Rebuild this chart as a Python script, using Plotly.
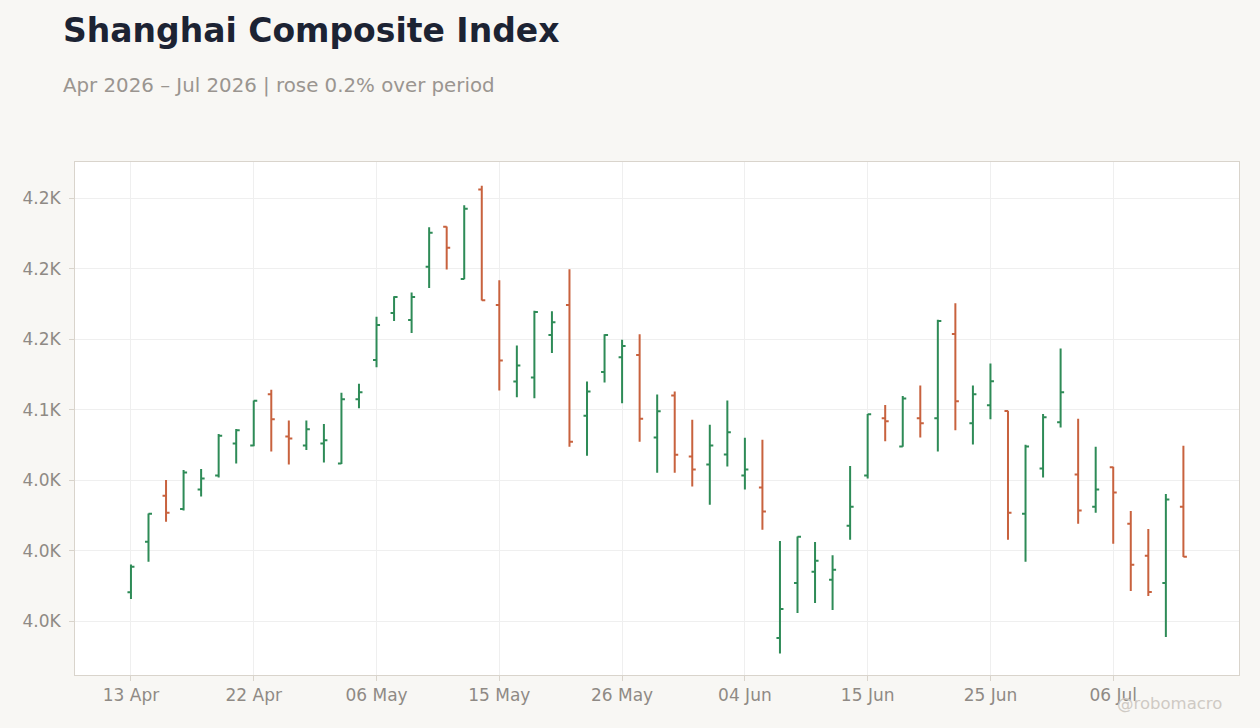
import plotly.graph_objects as go

# trading days (Shanghai, Apr-Jul 2026, holidays skipped)
dates = [
    "2026-04-13", "2026-04-14", "2026-04-15", "2026-04-16", "2026-04-17",
    "2026-04-20", "2026-04-21", "2026-04-22", "2026-04-23", "2026-04-24",
    "2026-04-27", "2026-04-28", "2026-04-29", "2026-04-30",
    "2026-05-06", "2026-05-07", "2026-05-08",
    "2026-05-11", "2026-05-12", "2026-05-13", "2026-05-14", "2026-05-15",
    "2026-05-18", "2026-05-19", "2026-05-20", "2026-05-21", "2026-05-22",
    "2026-05-25", "2026-05-26", "2026-05-27", "2026-05-28", "2026-05-29",
    "2026-06-01", "2026-06-02", "2026-06-03", "2026-06-04", "2026-06-05",
    "2026-06-08", "2026-06-09", "2026-06-10", "2026-06-11", "2026-06-12",
    "2026-06-15", "2026-06-16", "2026-06-17", "2026-06-18",
    "2026-06-22", "2026-06-23", "2026-06-24", "2026-06-25", "2026-06-26",
    "2026-06-29", "2026-06-30", "2026-07-01", "2026-07-02", "2026-07-03",
    "2026-07-06", "2026-07-07", "2026-07-08", "2026-07-09", "2026-07-10",
]

open_ = [3970.6, 4006.4, 4039.1, 4029.6, 4043.4, 4053.4, 4076.1, 4074.7, 4111.0, 4081.1,
         4074.7, 4076.1, 4061.9, 4107.4, 4135.2, 4168.6, 4163.7, 4201.4, 4229.8, 4192.8,
         4256.2, 4174.3, 4120.0, 4122.9, 4153.0, 4174.3, 4095.8, 4126.7, 4137.3, 4138.8,
         4080.4, 4110.1, 4066.9, 4061.2, 4068.3, 4053.4, 4044.8, 3938.1, 3977.2, 3985.1,
         3979.4, 4017.8, 4053.4, 4093.9, 4074.0, 4093.9, 4093.9, 4153.7, 4090.4, 4103.2,
         4099.1, 4026.3, 4058.3, 4091.1, 4054.1, 4031.3, 4059.3, 4019.2, 3996.4, 3977.2,
         4031.3]
high = [3990.3, 4026.5, 4050.1, 4057.2, 4057.9, 4082.8, 4086.3, 4106.5, 4114.1, 4092.3,
        4092.3, 4089.9, 4112.0, 4118.4, 4166.0, 4180.5, 4183.1, 4229.4, 4230.0, 4245.0,
        4258.8, 4191.9, 4145.6, 4170.3, 4169.8, 4199.7, 4120.0, 4153.5, 4149.7, 4153.5,
        4110.8, 4112.9, 4093.0, 4089.4, 4106.5, 4080.2, 4078.7, 4006.9, 4010.2, 4006.2,
        3996.9, 4060.2, 4097.0, 4103.4, 4109.8, 4117.2, 4163.9, 4175.5, 4117.2, 4132.8,
        4099.3, 4075.2, 4097.0, 4143.5, 4093.7, 4073.8, 4059.5, 4028.2, 4015.4, 4040.3,
        4074.5]
low = [3965.8, 3992.2, 4020.6, 4028.5, 4038.4, 4051.9, 4061.9, 4074.2, 4070.4, 4061.2,
       4071.4, 4062.6, 4061.6, 4101.0, 4130.2, 4163.0, 4154.4, 4186.4, 4199.5, 4192.5,
       4177.5, 4113.6, 4108.9, 4108.2, 4140.2, 4073.8, 4067.4, 4119.3, 4104.6, 4077.3,
       4055.3, 4055.3, 4045.5, 4032.7, 4059.8, 4043.4, 4014.9, 3927.2, 3955.9, 3963.0,
       3958.0, 4007.8, 4051.2, 4077.6, 4073.8, 4080.4, 4070.4, 4085.4, 4075.4, 4093.2,
       4007.8, 3992.2, 4051.9, 4087.5, 4019.2, 4027.0, 4005.0, 3971.5, 3968.0, 3938.8,
       3995.5]
close = [3988.6, 4026.3, 4027.0, 4055.5, 4051.2, 4081.6, 4085.4, 4106.3, 4093.2, 4079.7,
         4086.1, 4078.3, 4107.4, 4112.4, 4160.1, 4180.0, 4180.0, 4225.6, 4214.9, 4242.6,
         4177.7, 4135.0, 4131.4, 4169.4, 4162.0, 4077.3, 4112.9, 4153.0, 4145.2, 4093.7,
         4098.9, 4068.1, 4057.6, 4074.7, 4084.0, 4057.6, 4027.8, 3958.7, 4010.0, 3992.9,
         3986.5, 4031.3, 4096.8, 4091.8, 4107.9, 4090.4, 4163.0, 4106.0, 4111.0, 4120.3,
         4027.0, 4074.0, 4094.6, 4112.4, 4028.5, 4043.4, 4041.3, 3990.0, 3970.8, 4036.3,
         3995.7]

x_tick_dates = ["2026-04-13", "2026-04-22", "2026-05-06", "2026-05-15", "2026-05-26",
                "2026-06-04", "2026-06-15", "2026-06-25", "2026-07-06"]
x_tick_labels = ["13 Apr", "22 Apr", "06 May", "15 May", "26 May",
                 "04 Jun", "15 Jun", "25 Jun", "06 Jul"]
y_tick_vals = [3950, 4000, 4050, 4100, 4150, 4200, 4250]
y_tick_labels = ["4.0K", "4.0K", "4.0K", "4.1K", "4.2K", "4.2K", "4.2K"]

FONT = "DejaVu Sans"
UP = "#2e8b57"
DOWN = "#c8623e"
AXIS = "#d9d4cc"
GRID = "#efefef"
TICKTXT = "#8f8a85"

fig = go.Figure(go.Ohlc(
    x=dates, open=open_, high=high, low=low, close=close,
    increasing=dict(line=dict(color=UP, width=2)),
    decreasing=dict(line=dict(color=DOWN, width=2)),
    tickwidth=0.2,
    showlegend=False,
))

fig.update_layout(
    width=1260, height=728,
    margin=dict(l=75, r=21, t=162, b=53),
    paper_bgcolor="#f8f7f4",
    plot_bgcolor="#ffffff",
    font=dict(family=FONT, color=TICKTXT),
    xaxis=dict(
        type="category",
        range=[-3.19, 63.17],
        rangeslider=dict(visible=False),
        tickmode="array", tickvals=x_tick_dates, ticktext=x_tick_labels,
        tickfont=dict(size=17, color=TICKTXT),
        showgrid=True, gridcolor=GRID, gridwidth=1,
        showline=True, linecolor=AXIS, linewidth=1, mirror=True,
        ticks="outside", tickcolor=AXIS, ticklen=5,
    ),
    yaxis=dict(
        range=[3911.9, 4275.7],
        tickmode="array", tickvals=y_tick_vals, ticktext=y_tick_labels,
        tickfont=dict(size=17, color=TICKTXT),
        showgrid=True, gridcolor=GRID, gridwidth=1,
        showline=True, linecolor=AXIS, linewidth=1, mirror=True,
        ticks="outside", tickcolor=AXIS, ticklen=5,
        ticklabelstandoff=5,
        zeroline=False,
    ),
    annotations=[
        dict(text="<b>Shanghai Composite Index</b>", xref="paper", yref="paper",
             x=-0.012, y=1.257, xanchor="left", yanchor="middle", showarrow=False,
             font=dict(family=FONT, size=33, color="#1c2333")),
        dict(text="Apr 2026 – Jul 2026 | rose 0.2% over period", xref="paper", yref="paper",
             x=-0.012, y=1.150, xanchor="left", yanchor="middle", showarrow=False,
             font=dict(family=FONT, size=19.8, color="#9a9590")),
        dict(text="@robomacro", xref="paper", yref="paper",
             x=0.987, y=-0.0565, xanchor="right", yanchor="middle", showarrow=False,
             font=dict(family=FONT, size=16.5, color="#cfcac4")),
    ],
)

fig.write_html("out.html", config={"displayModeBar": False},
               post_script="document.body.style.margin='0';")
